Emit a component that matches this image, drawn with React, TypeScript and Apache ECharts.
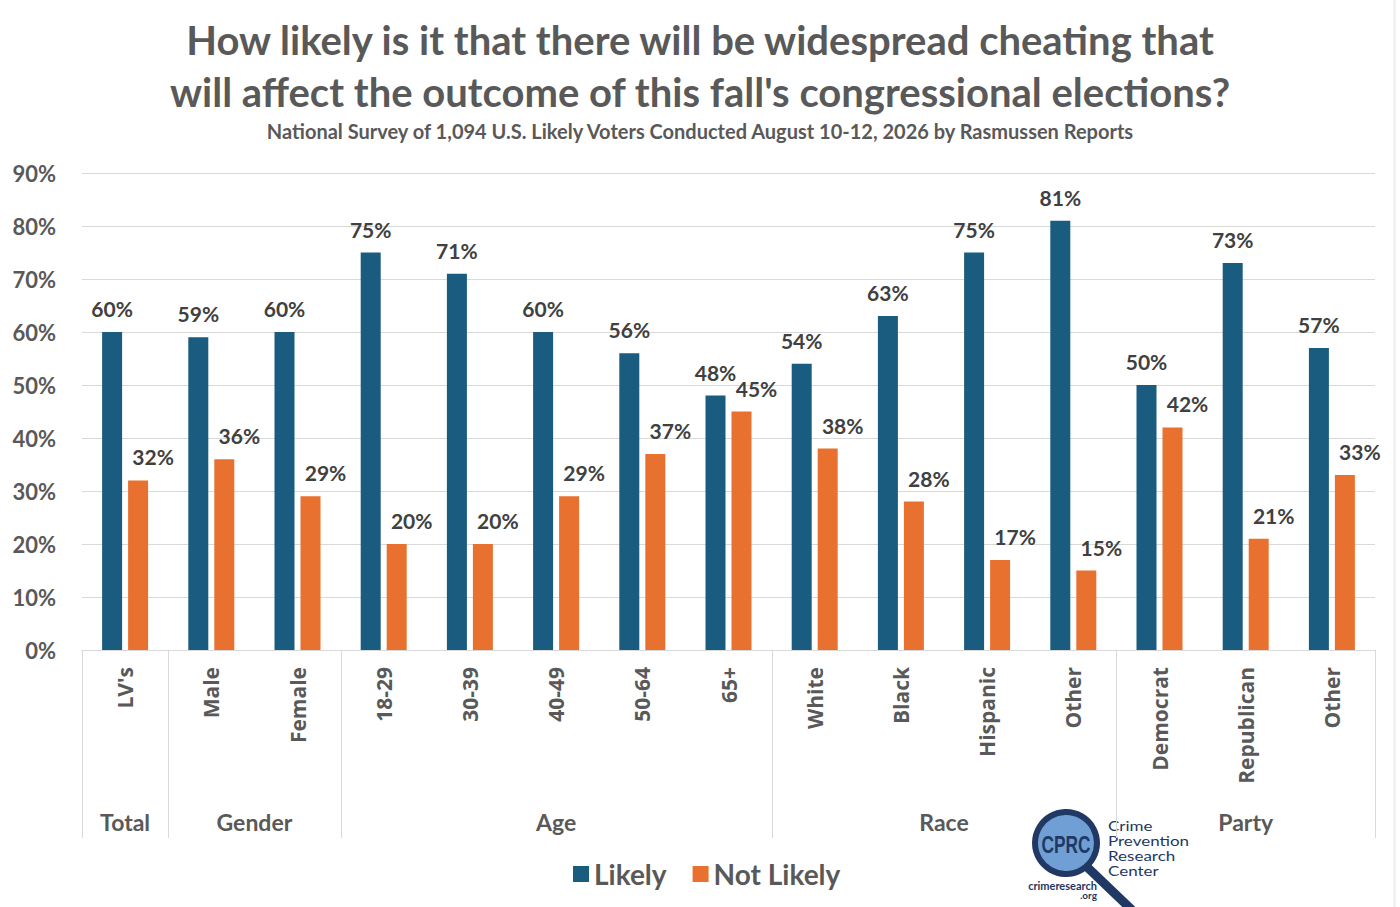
import React, { useEffect, useRef } from "react";
import * as echarts from "echarts";

const TITLE_LINES = [
  "How likely is it that there will be widespread cheating that",
  "will affect the outcome of this fall's congressional elections?",
];
const SUBTITLE =
  "National Survey of 1,094 U.S. Likely Voters Conducted August 10-12, 2026 by Rasmussen Reports";

const categories = [
  "LV's", "Male", "Female", "18-29", "30-39", "40-49", "50-64", "65+",
  "White", "Black", "Hispanic", "Other", "Democrat", "Republican", "Other",
];
const likely = [60, 59, 60, 75, 71, 60, 56, 48, 54, 63, 75, 81, 50, 73, 57];
const notLikely = [32, 36, 29, 20, 20, 29, 37, 45, 38, 28, 17, 15, 42, 21, 33];
const groupNames = ["Total", "Gender", "Age", "Race", "Party"];
const groupSizes = [1, 2, 5, 4, 3];
const yTicks = { min: 0, max: 90, interval: 10 };
const logoLines = ["Crime", "Prevention", "Research", "Center"];

const FONT = "Lato";
const GRAY = "#595959";
const DARK = "#404040";
const BLUE = "#1a5c80";
const ORANGE = "#e9712f";
const NAVY = "#1f3864";

export default function App() {
  const ref = useRef<HTMLDivElement>(null);
  useEffect(() => {
    if (!ref.current) return;
    const chart = echarts.init(ref.current, undefined, { renderer: "svg" });
    const labelStyle = {
      show: true,
      position: "top",
      distance: 13,
      formatter: "{c}%",
      fontFamily: FONT,
      fontWeight: "bold",
      fontSize: 21,
      color: DARK,
    };
    const titleStyle = {
      fontFamily: FONT,
      fontWeight: "bold",
      fontSize: 40,
      lineHeight: 52,
      color: GRAY,
    };
    chart.setOption({
      animation: false,
      backgroundColor: "#ffffff",
      title: [
        { text: TITLE_LINES[0], left: "center", top: 14, padding: 0, textStyle: titleStyle },
        { text: TITLE_LINES[1], left: "center", top: 66, padding: 0, textStyle: titleStyle },
        {
          text: SUBTITLE,
          left: "center",
          top: 119,
          padding: 0,
          textStyle: {
            fontFamily: FONT,
            fontWeight: "bold",
            fontSize: 20,
            lineHeight: 24,
            color: GRAY,
          },
        },
      ],
      legend: {
        data: ["Likely", "Not Likely"],
        left: 568,
        top: 855,
        icon: "rect",
        itemWidth: 16,
        itemHeight: 16,
        itemGap: 26,
        textStyle: {
          fontFamily: FONT,
          fontWeight: "bold",
          fontSize: 28,
          color: GRAY,
        },
      },
      grid: { left: 82, right: 25, top: 173, bottom: 257, containLabel: false },
      xAxis: {
        type: "category",
        data: categories,
        axisLine: { show: true, lineStyle: { color: "#d9d9d9", width: 1 } },
        axisTick: { show: false },
        axisLabel: {
          rotate: 90,
          margin: 17,
          interval: 0,
          fontFamily: "Open Sans",
          fontWeight: "bold",
          fontSize: 21,
          color: GRAY,
        },
      },
      yAxis: {
        type: "value",
        min: yTicks.min,
        max: yTicks.max,
        interval: yTicks.interval,
        axisLine: { show: false },
        axisTick: { show: false },
        splitLine: { lineStyle: { color: "#d9d9d9", width: 1 } },
        axisLabel: {
          formatter: "{value}%",
          margin: 26,
          fontFamily: FONT,
          fontWeight: "bold",
          fontSize: 22,
          color: GRAY,
        },
      },
      series: [
        {
          name: "Likely",
          type: "bar",
          data: likely,
          barWidth: 20,
          barGap: "30%",
          itemStyle: { color: BLUE },
          label: { ...labelStyle },
        },
        {
          name: "Not Likely",
          type: "bar",
          data: notLikely,
          barWidth: 20,
          barGap: "30%",
          itemStyle: { color: ORANGE },
          label: { ...labelStyle, offset: [15, 0] },
        },
      ],
    });

    // group separators & labels computed from the axis scale
    const c0 = chart.convertToPixel({ xAxisIndex: 0 }, 0) as number;
    const c1 = chart.convertToPixel({ xAxisIndex: 0 }, 1) as number;
    const bw = c1 - c0;
    const y0 = chart.convertToPixel({ yAxisIndex: 0 }, 0) as number;
    const left = c0 - bw / 2;
    const yEnd = y0 + 188;
    const graphics: any[] = [];
    let k = 0;
    const bounds = [0];
    groupSizes.forEach((s) => {
      k += s;
      bounds.push(k);
    });
    bounds.forEach((b) => {
      const x = Math.round(left + b * bw) + 0.5;
      graphics.push({
        type: "line",
        z: 1,
        shape: { x1: x, y1: y0, x2: x, y2: yEnd },
        style: { stroke: "#d9d9d9", lineWidth: 1 },
      });
    });
    groupNames.forEach((g, i) => {
      const cx = left + ((bounds[i] + bounds[i + 1]) / 2) * bw;
      graphics.push({
        type: "text",
        z: 2,
        x: cx,
        y: y0 + 172,
        style: {
          text: g,
          fontFamily: FONT,
          fontWeight: "bold",
          fontSize: 23,
          fill: GRAY,
          align: "center",
          verticalAlign: "middle",
        },
      });
    });
    // faint right edge line
    graphics.push({
      type: "line",
      z: 1,
      shape: { x1: 1394.5, y1: 0, x2: 1394.5, y2: 907 },
      style: { stroke: "#ececec", lineWidth: 2 },
    });
    // logo
    const logoChildren: any[] = [
      { type: "rect", shape: { x: 1024, y: 806, width: 172, height: 101 }, style: { fill: "#ffffff" } },
      {
        type: "line",
        shape: { x1: 1086, y1: 866, x2: 1132, y2: 910 },
        style: { stroke: NAVY, lineWidth: 9, lineCap: "round" },
      },
      {
        type: "circle",
        shape: { cx: 1066, cy: 843, r: 31 },
        style: { fill: "#6f9fd4", stroke: NAVY, lineWidth: 6 },
      },
      {
        type: "text",
        x: 1066,
        y: 844,
        scaleX: 0.72,
        style: {
          text: "CPRC",
          fontFamily: "Liberation Sans",
          fontWeight: "bold",
          fontSize: 24,
          fill: NAVY,
          align: "center",
          verticalAlign: "middle",
        },
      },
      {
        type: "text",
        x: 1097,
        y: 885,
        style: {
          text: "crimeresearch",
          fontFamily: FONT,
          fontWeight: "bold",
          fontSize: 11,
          fill: NAVY,
          align: "right",
          verticalAlign: "middle",
        },
      },
      {
        type: "text",
        x: 1097,
        y: 895,
        style: {
          text: ".org",
          fontFamily: FONT,
          fontWeight: "bold",
          fontSize: 10,
          fill: NAVY,
          align: "right",
          verticalAlign: "middle",
        },
      },
    ];
    logoLines.forEach((t, i) => {
      logoChildren.push({
        type: "text",
        x: 1108,
        y: 826 + i * 14.8,
        scaleY: 0.82,
        style: {
          text: t,
          fontFamily: FONT,
          fontSize: 17,
          fill: NAVY,
          align: "left",
          verticalAlign: "middle",
        },
      });
    });
    graphics.push({ type: "group", z: 10, children: logoChildren });
    chart.setOption({ graphic: graphics });
    return () => chart.dispose();
  }, []);
  return (
    <div
      ref={ref}
      style={{ position: "fixed", left: 0, top: 0, width: 1400, height: 907, background: "#fff" }}
    />
  );
}
